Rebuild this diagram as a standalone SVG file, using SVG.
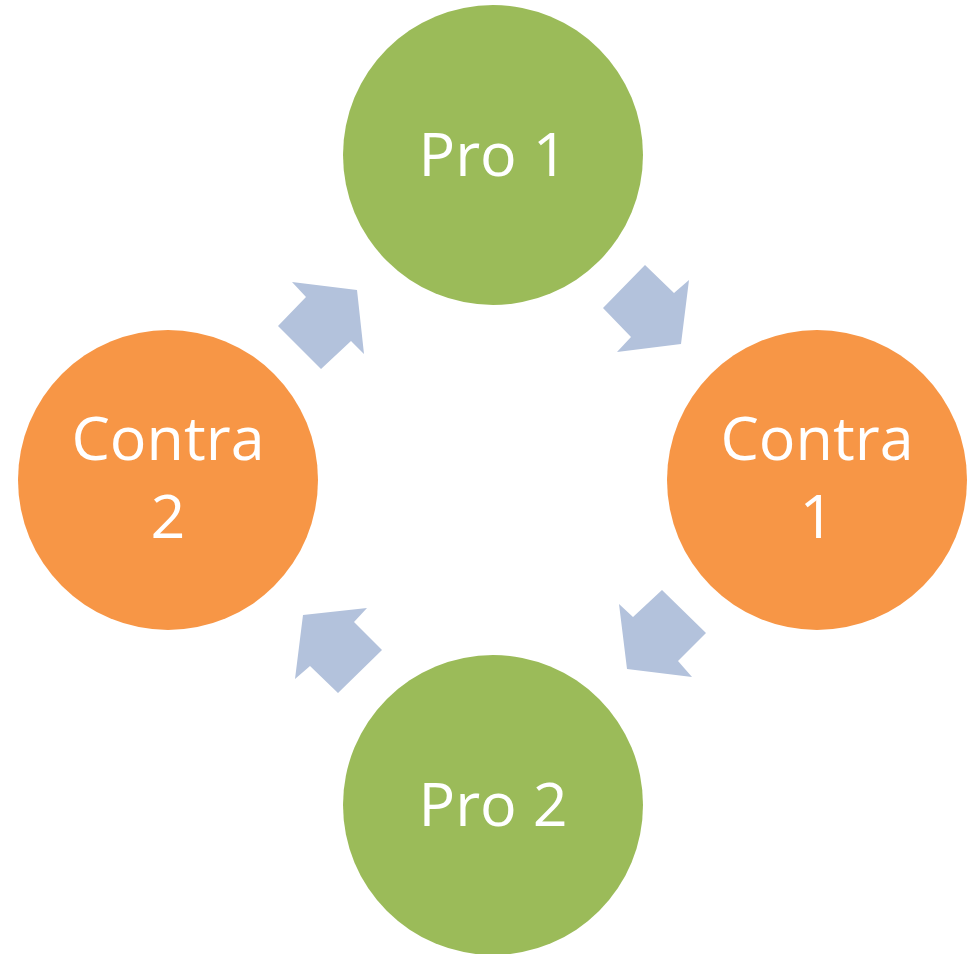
<svg xmlns="http://www.w3.org/2000/svg" width="969" height="954" viewBox="0 0 969 954">
<style>
.pro{fill:#9BBB59}
.con{fill:#F79646}
.arr{fill:#B3C2DC}
.lbl{fill:#FFFFFF;font-family:"Open Sans","Noto Sans",sans-serif;font-size:61px;text-anchor:middle}
</style>
<rect width="969" height="954" fill="#FFFFFF"/>
<g id="connectors">
<polygon class="arr" points="645,265 674,293 689,280 681,344 617,352 631,337 603,308"/>
<polygon class="arr" points="692,677 627,669 619,604 633,617 662,590 706,633 678,661"/>
<polygon class="arr" points="338,693 310,666 295,679 303,615 367,608 354,622 382,650"/>
<polygon class="arr" points="292,282 357,290 364,354 351,341 321,369 278,326 306,297"/>
</g>
<g id="pro1">
<circle class="pro" cx="493" cy="155" r="150"/>
<text class="lbl" x="493" y="176">Pro 1</text>
</g>
<g id="contra1">
<circle class="con" cx="817" cy="480" r="150"/>
<text class="lbl" x="817" y="460">Contra</text>
<text class="lbl" x="817" y="538">1</text>
</g>
<g id="pro2">
<circle class="pro" cx="493" cy="805" r="150"/>
<text class="lbl" x="493" y="826">Pro 2</text>
</g>
<g id="contra2">
<circle class="con" cx="168" cy="480" r="150"/>
<text class="lbl" x="168" y="460">Contra</text>
<text class="lbl" x="168" y="538">2</text>
</g>
</svg>
